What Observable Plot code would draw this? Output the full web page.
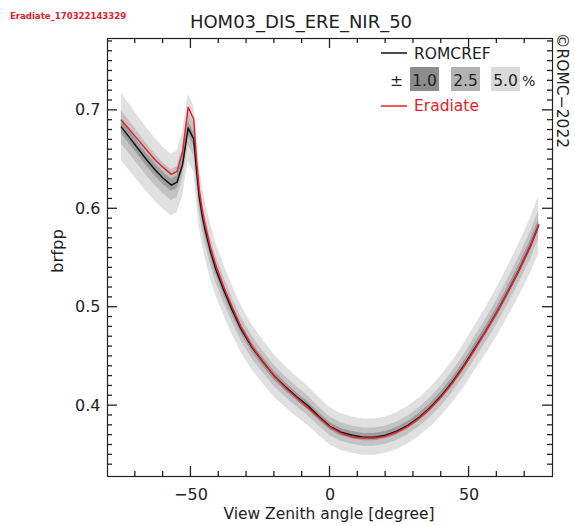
<!DOCTYPE html>
<html>
<head>
<meta charset="utf-8">
<script src="https://cdn.jsdelivr.net/npm/d3@7"></script>
<script src="https://cdn.jsdelivr.net/npm/@observablehq/plot@0.6"></script>
<style>
  html, body { margin: 0; padding: 0; background: #fff; }
  svg { display: block; }
</style>
</head>
<body>
<div id="chart"></div>
<script>
// View zenith angles [degree]
const xs = [-75,-72,-69,-66,-63,-60,-57,-55,-53,-51,-49,-48,-47,-46,-45,-43,-41,-38,-35,-32,-28,-24,-20,-16,-12,-8,-4,0,4,8,12,16,20,24,28,32,36,40,44,48,52,56,60,64,68,72,75];
// ROMC reference brfpp
const romcref = [0.683,0.672,0.661,0.650,0.640,0.631,0.624,0.627,0.645,0.682,0.671,0.640,0.612,0.594,0.580,0.557,0.538,0.516,0.496,0.478,0.459,0.444,0.430,0.419,0.409,0.400,0.389,0.379,0.373,0.370,0.368,0.368,0.370,0.374,0.380,0.388,0.398,0.410,0.424,0.440,0.458,0.476,0.495,0.516,0.538,0.562,0.583];
// Eradiate brfpp
const eradiate = [0.690,0.680,0.670,0.660,0.650,0.642,0.635,0.638,0.658,0.703,0.691,0.650,0.619,0.600,0.585,0.561,0.542,0.519,0.499,0.480,0.460,0.444,0.430,0.418,0.408,0.398,0.388,0.378,0.372,0.368,0.367,0.367,0.369,0.373,0.379,0.387,0.397,0.409,0.423,0.439,0.457,0.476,0.495,0.516,0.538,0.562,0.584];
// Tolerance bands (percent of ROMCREF)
const bandPercents = [5.0, 2.5, 1.0];
const bandColors = ["#e0e0e0", "#c3c3c3", "#9d9d9d"];
const legendBoxColors = ["#dadada", "#b3b3b3", "#8c8c8c"];
// Ticks
const xTicks = [-50, 0, 50];
const xMinorTicks = [-70,-60,-40,-30,-20,-10,10,20,30,40,60,70];
const yTicks = [0.4, 0.5, 0.6, 0.7];
const yMinorTicks = d3.range(34, 78).map(v => v / 100).filter(v => !yTicks.some(t => Math.abs(t - v) < 1e-9));

const rows = xs.map((x, i) => ({x, romcref: romcref[i], eradiate: eradiate[i]}));

const W = 575, H = 526;
const mL = 107, mR = 23, mT = 38, mB = 50;
const ink = "#222";
const font = "DejaVu Sans, sans-serif";

const chart = Plot.plot({
  width: W, height: H,
  marginLeft: mL, marginRight: mR, marginTop: mT, marginBottom: mB,
  x: {domain: [-80, 80]},
  y: {domain: [0.328, 0.773]},
  style: {fontFamily: font, background: "#fff", color: ink, fontSize: "16px"},
  marks: [
    ...bandPercents.map((p, i) => Plot.areaY(rows, {
      x: "x",
      y1: d => d.romcref * (1 - p / 100),
      y2: d => d.romcref * (1 + p / 100),
      fill: bandColors[i]
    })),
    Plot.line(rows, {x: "x", y: "romcref", stroke: "#111", strokeWidth: 1.5}),
    Plot.line(rows, {x: "x", y: "eradiate", stroke: "#e8202b", strokeWidth: 1.5}),
    Plot.frame({stroke: ink, strokeWidth: 1.2}),
    Plot.axisX({ticks: xTicks, tickSize: 0, tickPadding: 12, fontSize: 16, fill: ink, tickFormat: d3.format("d"), label: null}),
    Plot.axisY({ticks: yTicks, tickSize: 0, tickPadding: 7, fontSize: 16, fill: ink, tickFormat: d3.format(".1f"), label: null})
  ]
});

document.getElementById("chart").appendChild(chart);

const sx = chart.scale("x"), sy = chart.scale("y");
const xr = d3.scaleLinear().domain(sx.domain).range(sx.range);
const yr = d3.scaleLinear().domain(sy.domain).range(sy.range);
const fx0 = Math.min(...sx.range), fx1 = Math.max(...sx.range);
const fyB = Math.max(...sy.range), fyT = Math.min(...sy.range);
const svg = d3.select(chart);

// inward ticks on all four sides, placed with the chart's scales
const tg = svg.append("g").attr("fill", "none");
const seg = (x1, y1, x2, y2) => tg.append("path")
  .attr("d", `M${x1},${y1}L${x2},${y2}`)
  .attr("stroke", ink).attr("stroke-width", 1.3);
const addX = (ticks, len) => ticks.forEach(v => {
  const px = xr(v);
  seg(px, fyB, px, fyB - len);
  seg(px, fyT, px, fyT + len);
});
const addY = (ticks, len) => ticks.forEach(v => {
  const py = yr(v);
  seg(fx0, py, fx0 + len, py);
  seg(fx1, py, fx1 - len, py);
});
addX(xTicks, 10); addX(xMinorTicks, 5);
addY(yTicks, 10); addY(yMinorTicks, 5);

const g = svg.append("g").attr("font-family", font).attr("fill", ink).attr("text-anchor", "start");

// run id
g.append("text").attr("x", 10).attr("y", 18.5)
  .attr("font-family", "DejaVu Sans Condensed, DejaVu Sans, sans-serif")
  .attr("font-weight", "bold").attr("font-size", 9.5).attr("fill", "#e0202a")
  .text("Eradiate_170322143329");
// title
g.append("text").attr("x", 301).attr("y", 28).attr("text-anchor", "middle")
  .attr("font-size", 18).text("HOM03_DIS_ERE_NIR_50");
// axis labels
g.append("text").attr("x", 329).attr("y", 519).attr("text-anchor", "middle")
  .attr("font-size", 15.5).text("View Zenith angle [degree]");
g.append("text").attr("transform", "translate(63,251) rotate(-90)").attr("text-anchor", "middle")
  .attr("font-size", 16.5).text("brfpp");
// copyright
g.append("text").attr("transform", "translate(557,33) rotate(90)")
  .attr("font-size", 15.5).text("©ROMC−2022");

// legend
const lg = g.append("g");
lg.append("line").attr("x1", 381).attr("x2", 407).attr("y1", 53).attr("y2", 53)
  .attr("stroke", "#111").attr("stroke-width", 1.5);
lg.append("text").attr("x", 414).attr("y", 59).attr("font-size", 15.5).text("ROMCREF");
lg.append("text").attr("x", 396.5).attr("y", 86).attr("text-anchor", "middle").attr("font-size", 15.5).text("±");
const boxX = [491, 451, 410];
bandPercents.forEach((p, i) => {
  lg.append("rect").attr("x", boxX[i]).attr("y", 67).attr("width", 29).attr("height", 24)
    .attr("fill", legendBoxColors[i]);
  lg.append("text").attr("x", boxX[i] + 14.5).attr("y", 86).attr("text-anchor", "middle")
    .attr("font-size", 15.5).text(d3.format(".1f")(p));
});
lg.append("text").attr("x", 522).attr("y", 86).attr("font-size", 14).text("%");
lg.append("line").attr("x1", 381).attr("x2", 407).attr("y1", 106).attr("y2", 106)
  .attr("stroke", "#e8202b").attr("stroke-width", 1.5);
lg.append("text").attr("x", 414).attr("y", 111).attr("font-size", 15.5).attr("fill", "#e8202b").text("Eradiate");
</script>
</body>
</html>
